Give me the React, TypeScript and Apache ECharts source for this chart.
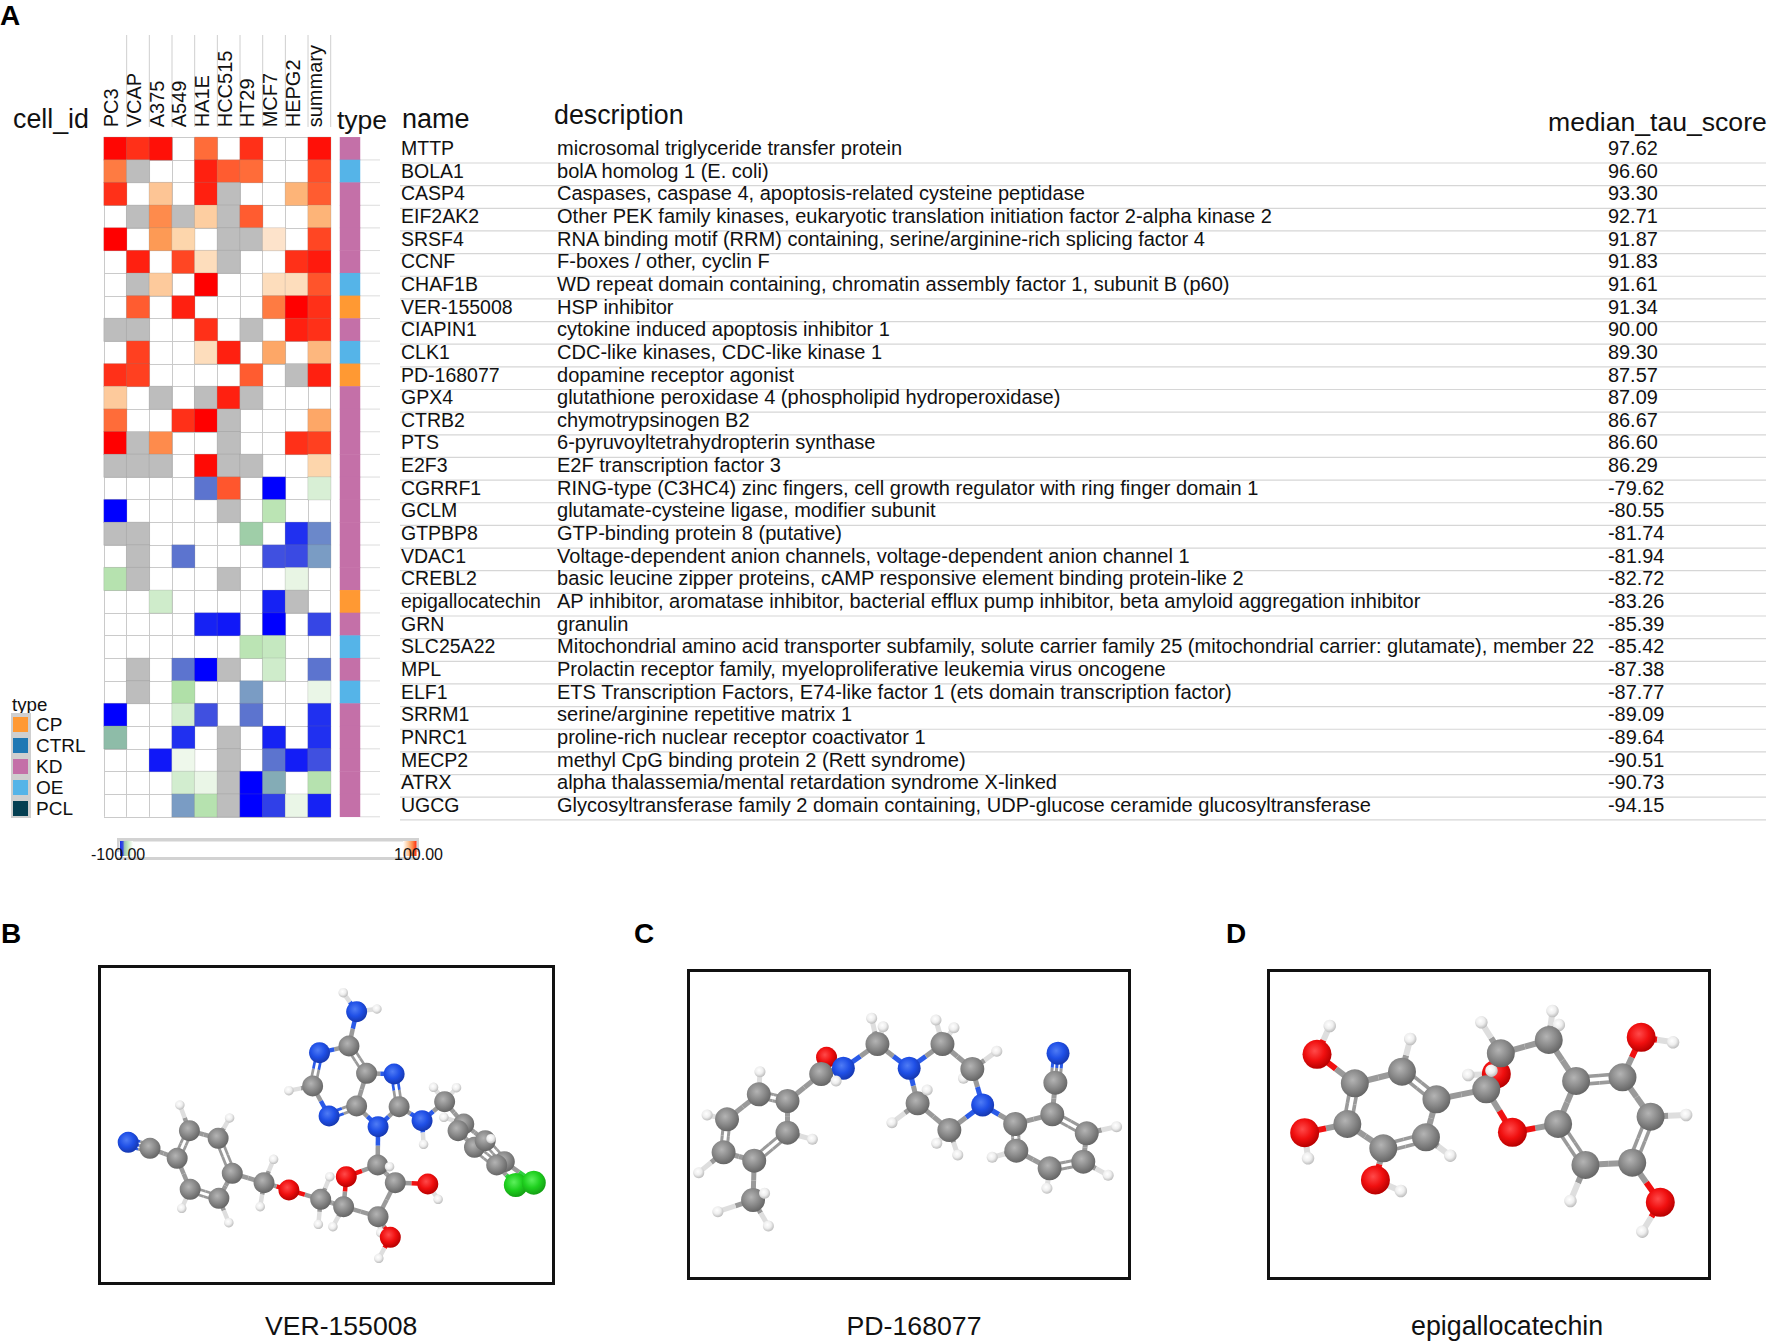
import React, { useEffect, useRef } from "react";
import * as echarts from "echarts";

const FONT = "'Liberation Sans', Arial, Helvetica, sans-serif";
const G = 999;

const cellIds = ["PC3", "VCAP", "A375", "A549", "HA1E", "HCC515", "HT29", "MCF7", "HEPG2", "summary"];
const names = ["MTTP", "BOLA1", "CASP4", "EIF2AK2", "SRSF4", "CCNF", "CHAF1B", "VER-155008", "CIAPIN1", "CLK1", "PD-168077", "GPX4", "CTRB2", "PTS", "E2F3", "CGRRF1", "GCLM", "GTPBP8", "VDAC1", "CREBL2", "epigallocatechin", "GRN", "SLC25A22", "MPL", "ELF1", "SRRM1", "PNRC1", "MECP2", "ATRX", "UGCG"];
const descriptions = [
  "microsomal triglyceride transfer protein",
  "bolA homolog 1 (E. coli)",
  "Caspases, caspase 4, apoptosis-related cysteine peptidase",
  "Other PEK family kinases, eukaryotic translation initiation factor 2-alpha kinase 2",
  "RNA binding motif (RRM) containing, serine/arginine-rich splicing factor 4",
  "F-boxes / other, cyclin F",
  "WD repeat domain containing, chromatin assembly factor 1, subunit B (p60)",
  "HSP inhibitor",
  "cytokine induced apoptosis inhibitor 1",
  "CDC-like kinases, CDC-like kinase 1",
  "dopamine receptor agonist",
  "glutathione peroxidase 4 (phospholipid hydroperoxidase)",
  "chymotrypsinogen B2",
  "6-pyruvoyltetrahydropterin synthase",
  "E2F transcription factor 3",
  "RING-type (C3HC4) zinc fingers, cell growth regulator with ring finger domain 1",
  "glutamate-cysteine ligase, modifier subunit",
  "GTP-binding protein 8 (putative)",
  "Voltage-dependent anion channels, voltage-dependent anion channel 1",
  "basic leucine zipper proteins, cAMP responsive element binding protein-like 2",
  "AP inhibitor, aromatase inhibitor, bacterial efflux pump inhibitor, beta amyloid aggregation inhibitor",
  "granulin",
  "Mitochondrial amino acid transporter subfamily, solute carrier family 25 (mitochondrial carrier: glutamate), member 22",
  "Prolactin receptor family, myeloproliferative leukemia virus oncogene",
  "ETS Transcription Factors, E74-like factor 1 (ets domain transcription factor)",
  "serine/arginine repetitive matrix 1",
  "proline-rich nuclear receptor coactivator 1",
  "methyl CpG binding protein 2 (Rett syndrome)",
  "alpha thalassemia/mental retardation syndrome X-linked",
  "Glycosyltransferase family 2 domain containing, UDP-glucose ceramide glucosyltransferase",
];
const tauScores = ["97.62", "96.60", "93.30", "92.71", "91.87", "91.83", "91.61", "91.34", "90.00", "89.30", "87.57", "87.09", "86.67", "86.60", "86.29", "-79.62", "-80.55", "-81.74", "-81.94", "-82.72", "-83.26", "-85.39", "-85.42", "-87.38", "-87.77", "-89.09", "-89.64", "-90.51", "-90.73", "-94.15"];
const rowTypes = ["KD", "OE", "KD", "KD", "KD", "KD", "OE", "CP", "KD", "OE", "CP", "KD", "KD", "KD", "KD", "KD", "KD", "KD", "KD", "KD", "CP", "KD", "OE", "KD", "OE", "KD", "KD", "KD", "KD", "KD"];
const typeNames = ["CP", "CTRL", "KD", "OE", "PCL"];
const typeColors: Record<string, string> = { CP: "#ff9933", CTRL: "#1f78b4", KD: "#c470a8", OE: "#55b4e8", PCL: "#043f52" };

const scores: number[][] = [
  [99.8, 98.5, 99.5, 0, 96.5, 0, 98.5, 0, 0, 99.5],
  [96, G, 0, 0, 99, 97, 96.5, 0, 0, 97.5],
  [98.5, 0, 93, 0, 99, G, 0, 0, 94, 97],
  [0, G, 95.5, G, 92.5, G, 97, 0, 0, 94],
  [100, 0, 95, 92, 0, G, G, 91, 0, 97.8],
  [0, 99, 0, 97.8, 91.5, G, 0, 0, 98.5, 99.2],
  [0, G, 92.7, 0, 100, 0, 0, 91.5, 91.5, 97.3],
  [0, 97, 0, 99, 0, 0, 0, 96, 100, 98.5],
  [G, G, 0, 0, 98.5, 0, G, 0, 99, 98.5],
  [0, 98, 0, 0, 91.5, 99, 0, 94.5, 0, 93.8],
  [98.5, 98, 0, 0, 0, 0, 97, 0, G, 99],
  [92.7, 0, G, 0, G, 99, G, 0, 0, 0],
  [96.5, 0, 0, 98.5, 100, G, 0, 0, 0, 94.5],
  [100, G, 95.5, 0, 0, G, 0, 0, 98.5, 98],
  [G, G, G, 0, 99.7, G, G, 0, 0, 92],
  [0, 0, 0, 0, -97, 97.2, 0, -100, 0, -92],
  [-100, 0, 0, 0, 0, G, 0, -93.5, 0, 0],
  [G, G, 0, 0, 0, 0, -94.5, 0, -99, -96.5],
  [0, G, 0, -97, 0, 0, 0, -98, -98.2, -96],
  [-93.7, G, 0, 0, 0, G, 0, 0, -91, 0],
  [0, 0, -92.5, 0, 0, 0, 0, -99.3, G, 0],
  [0, 0, 0, 0, -99.3, -99.5, 0, -100, 0, -98.3],
  [0, 0, 0, 0, 0, 0, -93.5, -93, 0, 0],
  [0, G, 0, -97, -100, G, 0, -92.5, 0, -97],
  [0, G, 0, -94, 0, 0, -96, 0, 0, -90.8],
  [-100, 0, 0, -92.3, -98, 0, -97, 0, 0, -99],
  [-95, 0, 0, -99, 0, G, 0, -99.3, 0, -99],
  [0, 0, -99.5, -90.5, 0, G, 0, -97, -99.4, -98],
  [0, 0, 0, -92.3, -90.8, G, -100, -95.5, 0, -93.7],
  [0, 0, 0, -96, -93.7, G, -100, -98.5, -90.8, -99.3],
];

const posRamp = ["#fdeedd", "#fde3cb", "#fdd6ac", "#fdc595", "#fdb478", "#fd9a55", "#fe7b42", "#ff5c30", "#ff4020", "#ff2010", "#ff0000"];
const negRamp = ["#f4faf2", "#e8f5e4", "#d8efd5", "#c5e8c0", "#b0e0a8", "#8ebca8", "#7a9cc4", "#5c74cf", "#4050e0", "#2030f0", "#0000ff"];

function hex(c: string) { return [1, 3, 5].map((i) => parseInt(c.slice(i, i + 2), 16)); }
function cellColor(n: number): string {
  if (n === G) return "#bdbdbd";
  if (n === 0) return "#ffffff";
  const ramp = n > 0 ? posRamp : negRamp;
  const t = Math.min(10, Math.max(0, Math.abs(n) - 90));
  const i = Math.floor(t);
  const f = t - i;
  const a = hex(ramp[i]);
  const b = hex(ramp[Math.min(10, i + 1)]);
  return `rgb(${a.map((x, k) => Math.round(x + (b[k] - x) * f)).join(",")})`;
}

type Atom = [string, number, number];
type Bond = [number, number, number?];

const atomsB: Atom[] = [
  ["H", 897, 278], ["N", 932, 335], ["H", 985, 327], ["C", 912, 438], ["N", 835, 458], ["C", 817, 558], ["H", 755, 572], ["N", 860, 648], ["C", 932, 618], ["C", 958, 520],
  ["N", 1030, 522], ["C", 1043, 620], ["N", 988, 680], ["N", 1103, 662], ["H", 1107, 733], ["C", 1162, 605], ["H", 1133, 562], ["H", 1193, 563], ["C", 1212, 672], ["H", 1160, 652],
  ["C", 1197, 692], ["C", 1240, 742], ["C", 1268, 722], ["H", 1283, 716], ["Cl", 1348, 855], ["Cl", 1395, 848], ["C", 1318, 785], ["C", 1298, 795], ["C", 987, 795], ["O", 905, 830],
  ["C", 1033, 848], ["O", 1118, 852], ["H", 1145, 898], ["C", 988, 950], ["H", 995, 998], ["O", 1020, 1012], ["H", 990, 1075], ["C", 898, 920], ["H", 870, 980], ["C", 838, 898],
  ["H", 862, 830], ["H", 832, 973], ["O", 755, 870], ["C", 690, 848], ["H", 715, 778], ["H", 680, 920], ["H", 1018, 800], ["C", 607, 820], ["C", 570, 715], ["H", 600, 654],
  ["C", 495, 692], ["H", 470, 615], ["C", 463, 775], ["C", 392, 745], ["N", 335, 727], ["C", 497, 868], ["H", 475, 925], ["C", 572, 895], ["H", 598, 968],
];
const bondsB: Bond[] = [
  [0, 1], [1, 2], [1, 3], [3, 4], [3, 9, 2], [4, 5, 2], [5, 6], [5, 7], [7, 8, 2], [8, 9], [9, 10], [10, 11, 2], [11, 12], [12, 8], [11, 13], [13, 14], [13, 15], [15, 16], [15, 17], [15, 18],
  [18, 19], [18, 20, 2], [18, 22], [20, 21], [22, 26, 2], [21, 27, 2], [26, 27], [22, 23], [27, 24], [26, 25], [12, 28], [28, 29], [28, 30], [29, 37], [30, 31], [31, 32], [30, 33], [33, 35], [35, 36], [33, 34],
  [33, 37], [37, 38], [37, 39], [39, 40], [39, 41], [39, 42], [42, 43], [43, 44], [43, 45], [43, 47], [28, 46], [47, 48, 2], [47, 57], [48, 49], [48, 50], [50, 51], [50, 52, 2], [52, 53], [53, 54, 3], [52, 55], [55, 56], [55, 57, 2], [57, 58],
];

const atomsC: Atom[] = [
  ["C", 400, 900], ["H", 430, 880], ["H", 308, 935], ["H", 440, 978], ["C", 403, 782], ["C", 490, 698], ["H", 555, 718], ["C", 490, 603], ["C", 415, 583], ["H", 418, 515],
  ["C", 332, 658], ["H", 280, 645], ["C", 323, 757], ["H", 258, 818], ["O", 592, 472], ["C", 578, 522], ["N", 636, 505], ["H", 617, 543], ["C", 725, 432], ["H", 710, 355],
  ["H", 740, 380], ["N", 808, 505], ["C", 895, 432], ["H", 878, 360], ["H", 925, 383], ["H", 950, 535], ["C", 973, 507], ["H", 1037, 454], ["N", 1000, 615], ["C", 830, 610],
  ["H", 855, 570], ["H", 763, 668], ["H", 880, 730], ["C", 913, 690], ["H", 935, 765], ["C", 1085, 672], ["C", 1088, 752], ["H", 1025, 772], ["C", 1175, 805], ["H", 1168, 865],
  ["C", 1263, 785], ["H", 1328, 826], ["C", 1272, 700], ["H", 1350, 680], ["C", 1182, 643], ["C", 1190, 548], ["N", 1197, 460],
];
const bondsC: Bond[] = [
  [0, 1], [0, 2], [0, 3], [0, 4], [4, 5, 2], [4, 12], [5, 6], [5, 7], [7, 8, 2], [7, 15], [8, 9], [8, 10], [10, 11], [10, 12, 2], [12, 13], [15, 14, 2], [15, 16], [16, 17], [16, 18], [18, 19], [18, 20], [18, 21],
  [21, 22], [21, 29], [22, 23], [22, 24], [22, 26], [26, 27], [26, 25], [26, 28], [28, 33], [28, 35], [29, 30], [29, 31], [29, 33], [33, 32], [33, 34], [35, 36, 2], [35, 44], [36, 37], [36, 38], [38, 39], [38, 40, 2], [40, 41], [40, 42], [42, 43], [42, 44, 2], [44, 45], [45, 46, 3],
];

const atomsD: Atom[] = [
  ["H", 400, 378], ["O", 366, 463], ["C", 467, 550], ["C", 593, 515], ["H", 615, 417], ["C", 685, 598], ["C", 657, 712], ["H", 722, 767], ["C", 543, 745], ["O", 522, 840],
  ["H", 590, 873], ["C", 447, 672], ["O", 333, 698], ["H", 342, 775], ["O", 845, 522], ["H", 770, 525], ["C", 818, 568], ["H", 832, 512], ["C", 857, 460], ["H", 805, 367],
  ["H", 1012, 375], ["C", 985, 420], ["H", 995, 333], ["C", 1058, 543], ["C", 1182, 532], ["O", 1232, 412], ["H", 1317, 427], ["C", 1257, 650], ["H", 1352, 645], ["C", 1208, 788],
  ["O", 1283, 907], ["H", 1235, 995], ["C", 1083, 795], ["H", 1043, 903], ["C", 1010, 672], ["O", 888, 697],
];
const bondsD: Bond[] = [
  [0, 1], [1, 2], [2, 3], [2, 11, 2], [3, 4], [3, 5, 2], [5, 6], [5, 16], [6, 7], [6, 8, 2], [8, 9], [8, 11], [9, 10], [11, 12], [12, 13], [16, 17], [16, 18], [16, 35], [18, 19], [18, 21], [18, 14], [14, 15],
  [21, 22], [21, 20], [21, 23], [23, 24, 2], [23, 34], [24, 25], [25, 26], [24, 27], [27, 28], [27, 29, 2], [29, 30], [30, 31], [29, 32], [32, 33], [32, 34, 2], [34, 35],
];

const atomColor: Record<string, string[]> = {
  C: ["#b4b4b4", "#8a8a8a", "#666666"],
  N: ["#4f7cf5", "#1f4fe6", "#1638b0"],
  O: ["#ff4a4a", "#f00f0f", "#b80000"],
  H: ["#ffffff", "#eeeeee", "#bdbdbd"],
  Cl: ["#5cf05c", "#1fd01f", "#14a014"],
};
const bondColor: Record<string, string> = { C: "#9a9a9a", N: "#2a5ae8", O: "#f01010", H: "#dedede", Cl: "#30d040" };

function atomSeries(atoms: Atom[], bonds: Bond[], axis: number, sizes: Record<string, number>, bondWidth: number) {
  const bondRows = bonds.map(([a, b, order]) => [atoms[a][1], atoms[a][2], atoms[b][1], atoms[b][2], order || 1, atoms[a][0], atoms[b][0]]);
  return [
    {
      type: "custom",
      xAxisIndex: axis,
      yAxisIndex: axis,
      silent: true,
      z: 2,
      encode: { x: [0, 2], y: [1, 3] },
      data: bondRows,
      renderItem: (_p: any, api: any) => {
        const p1 = api.coord([api.value(0), api.value(1)]);
        const p2 = api.coord([api.value(2), api.value(3)]);
        const order = api.value(4);
        const row = bondRows[_p.dataIndex];
        const c1 = bondColor[row[5] as string];
        const c2 = bondColor[row[6] as string];
        const dx = p2[0] - p1[0];
        const dy = p2[1] - p1[1];
        const len = Math.hypot(dx, dy) || 1;
        const nx = -dy / len;
        const ny = dx / len;
        const offs = order === 1 ? [0] : order === 2 ? [-bondWidth * 0.62, bondWidth * 0.62] : [-bondWidth * 0.9, 0, bondWidth * 0.9];
        const lw = order === 1 ? bondWidth : bondWidth * 0.6;
        const children: any[] = [];
        offs.forEach((o) => {
          const ax = p1[0] + nx * o, ay = p1[1] + ny * o, bx = p2[0] + nx * o, by = p2[1] + ny * o;
          const mx = (ax + bx) / 2, my = (ay + by) / 2;
          children.push({ type: "line", shape: { x1: ax, y1: ay, x2: mx, y2: my }, style: { stroke: c1, lineWidth: lw } });
          children.push({ type: "line", shape: { x1: mx, y1: my, x2: bx, y2: by }, style: { stroke: c2, lineWidth: lw } });
        });
        return { type: "group", children };
      },
    },
    {
      type: "scatter",
      xAxisIndex: axis,
      yAxisIndex: axis,
      silent: true,
      z: 3,
      data: atoms.map(([el, x, y]) => ({
        value: [x, y],
        symbolSize: sizes[el],
        itemStyle: {
          opacity: 1,
          color: {
            type: "radial", x: 0.42, y: 0.38, r: 0.62,
            colorStops: [
              { offset: 0, color: atomColor[el][0] },
              { offset: 0.55, color: atomColor[el][1] },
              { offset: 1, color: atomColor[el][2] },
            ],
          },
        },
      })),
    },
  ];
}

export default function App() {
  const ref = useRef<HTMLDivElement>(null);
  useEffect(() => {
    const chart = echarts.init(ref.current!, null, { renderer: "svg" });
    const HX = 104, HY = 137.3, CW = 22.67, RH = 22.65;
    const HH = RH * 30;
    const heatData: number[][] = [];
    scores.forEach((row, r) => row.forEach((v, c) => {
      if (v !== 0) heatData.push([c, r, v]);
    }));
    const distinct = Array.from(new Set(heatData.map((d) => d[2])));
    const txt = (text: string, x: number, y: number, size: number, extra: any = {}) => ({
      type: "text", x, y, silent: true,
      style: { text, fontSize: size, fontFamily: FONT, fill: "#111111", textAlign: "left", textVerticalAlign: "middle", ...extra },
    });
    const ln = (x1: number, y1: number, x2: number, y2: number, stroke = "#d6d6d6", lineWidth = 1) => ({
      type: "line", silent: true, shape: { x1, y1, x2, y2 }, style: { stroke, lineWidth },
    });
    const frame = (x: number, y: number, w: number, h: number) => ({
      type: "rect", silent: true, shape: { x, y, width: w, height: h }, style: { fill: "none", stroke: "#111", lineWidth: 3 },
    });
    const graphics: any[] = [];
    [["A", 0, 15], ["B", 1, 933], ["C", 634, 933], ["D", 1226, 933]].forEach(([t, x, y]) =>
      graphics.push(txt(t as string, x as number, y as number, 28, { fontWeight: "bold", fill: "#000" })));
    graphics.push(txt("cell_id", 13, 119, 26.8));
    graphics.push(txt("type", 337, 120, 26.5));
    graphics.push(txt("name", 402, 119, 27));
    graphics.push(txt("description", 554, 115, 26.8));
    graphics.push(txt("median_tau_score", 1548, 122, 26.6));
    for (let k = 1; k <= 10; k++) graphics.push(ln(HX + CW * k, 35, HX + CW * k, 127, "#cfcfcf", 1));
    names.forEach((n, i) => {
      const y = 148 + RH * i;
      graphics.push(txt(n, 401, y, 19.5));
      graphics.push(txt(descriptions[i], 557, y, 20.05));
      graphics.push(txt(tauScores[i], 1608, y, 19.9));
      graphics.push(ln(400, 163 + RH * i, 1766, 163 + RH * i, "#d6d6d6", 1.2));
      graphics.push(ln(360, HY + RH * (i + 1), 380, HY + RH * (i + 1), "#dcdcdc", 1));
    });
    graphics.push(txt("type", 12, 704.5, 18.7));
    graphics.push({ type: "rect", silent: true, shape: { x: 11, y: 713, width: 20, height: 105 }, style: { fill: "#cfcfcf" } });
    typeNames.forEach((t, i) => {
      const cy = 724.5 + 21 * i;
      graphics.push({ type: "rect", silent: true, shape: { x: 13, y: cy - 7.5, width: 15, height: 15 }, style: { fill: typeColors[t] } });
      graphics.push(txt(t, 36, cy, 19));
    });
    graphics.push({ type: "rect", silent: true, shape: { x: 117, y: 838, width: 302, height: 3.5 }, style: { fill: "#d2d2d2" } });
    graphics.push({ type: "rect", silent: true, shape: { x: 117, y: 857, width: 302, height: 3 }, style: { fill: "#d2d2d2" } });
    graphics.push({ type: "rect", silent: true, shape: { x: 117, y: 838, width: 2.5, height: 14 }, style: { fill: "#d2d2d2" } });
    graphics.push({ type: "rect", silent: true, shape: { x: 416.5, y: 838, width: 2.5, height: 14 }, style: { fill: "#d2d2d2" } });
    graphics.push({
      type: "rect", silent: true, shape: { x: 120, y: 841, width: 13, height: 15 },
      style: { fill: new echarts.graphic.LinearGradient(0, 0, 1, 0, [
        { offset: 0, color: "#1a2ee8" }, { offset: 0.22, color: "#3a50e0" }, { offset: 0.35, color: "#9fc8b0" }, { offset: 0.6, color: "#c5e8c0" }, { offset: 1, color: "#ffffff" },
      ]) },
    });
    graphics.push({
      type: "rect", silent: true, shape: { x: 403, y: 841, width: 13.5, height: 15 },
      style: { fill: new echarts.graphic.LinearGradient(0, 0, 1, 0, [
        { offset: 0, color: "#ffffff" }, { offset: 0.4, color: "#fdc595" }, { offset: 0.7, color: "#fe8a4a" }, { offset: 1, color: "#ff2a10" },
      ]) },
    });
    graphics.push(txt("-100.00", 91, 854, 16));
    graphics.push(txt("100.00", 394, 854, 16));
    graphics.push(frame(99.5, 966.5, 454, 317));
    graphics.push(frame(688.5, 970.5, 441, 308));
    graphics.push(frame(1268.5, 970.5, 441, 308));
    graphics.push(txt("VER-155008", 265, 1326, 26.6));
    graphics.push(txt("PD-168077", 846.5, 1326, 26.7));
    graphics.push(txt("epigallocatechin", 1411, 1326, 26.8));

    const mol = (k: number) => ({
      xAxis: { type: "value", gridIndex: k, min: 0, max: 1568, show: false },
      yAxis: { type: "value", gridIndex: k, min: 0, max: 1323, inverse: true, show: false },
    });
    const mols = [2, 3, 4].map(mol);

    chart.setOption({
      animation: false,
      backgroundColor: "#ffffff",
      grid: [
        { left: HX, top: HY, width: CW * 10, height: HH },
        { left: 340, top: HY, width: 20, height: HH },
        { left: 0, top: 900, width: 600, height: 441 },
        { left: 600, top: 900, width: 600, height: 441 },
        { left: 1180, top: 900, width: 587, height: 441 },
      ],
      visualMap: [
        {
          type: "piecewise", show: false, seriesIndex: [0], dimension: 2,
          pieces: distinct.map((v) => ({ value: v, color: cellColor(v) })),
        },
        {
          type: "piecewise", show: false, seriesIndex: [1], dimension: 2,
          pieces: typeNames.map((t, i) => ({ value: i, color: typeColors[t] })),
        },
      ],
      xAxis: [
        {
          type: "category", gridIndex: 0, position: "top", data: cellIds,
          axisLine: { show: false }, axisTick: { show: false },
          axisLabel: { rotate: -90, interval: 0, margin: 10, fontSize: 20, fontFamily: FONT, color: "#111111", verticalAlign: "bottom", lineHeight: 8 },
          splitLine: { show: true, interval: 0, lineStyle: { color: "#cacaca", width: 1 } },
        },
        { type: "category", gridIndex: 1, data: ["type"], show: false },
        ...mols.map((m) => m.xAxis),
      ],
      yAxis: [
        {
          type: "category", gridIndex: 0, inverse: true, data: names,
          axisLine: { show: false }, axisTick: { show: false }, axisLabel: { show: false },
          splitLine: { show: true, interval: 0, lineStyle: { color: "#cacaca", width: 1 } },
        },
        { type: "category", gridIndex: 1, inverse: true, data: names, show: false },
        ...mols.map((m) => m.yAxis),
      ],
      series: [
        { type: "heatmap", xAxisIndex: 0, yAxisIndex: 0, silent: true, data: heatData, itemStyle: { borderColor: "rgba(130,130,130,0.35)", borderWidth: 0.6 } },
        {
          type: "heatmap", xAxisIndex: 1, yAxisIndex: 1, silent: true,
          data: rowTypes.map((t, i) => [0, i, typeNames.indexOf(t)]),
        },
        ...atomSeries(atomsB, bondsB, 2, { C: 21, N: 21, O: 21, H: 9.5, Cl: 24 }, 4.5),
        ...atomSeries(atomsC, bondsC, 3, { C: 24, N: 23, O: 21, H: 11, Cl: 24 }, 5),
        ...atomSeries(atomsD, bondsD, 4, { C: 28, N: 27, O: 29, H: 12.5, Cl: 27 }, 6),
      ],
      graphic: { elements: graphics },
    });
    return () => chart.dispose();
  }, []);
  return <div ref={ref} style={{ position: "absolute", left: 0, top: 0, width: 1767, height: 1341 }} />;
}
